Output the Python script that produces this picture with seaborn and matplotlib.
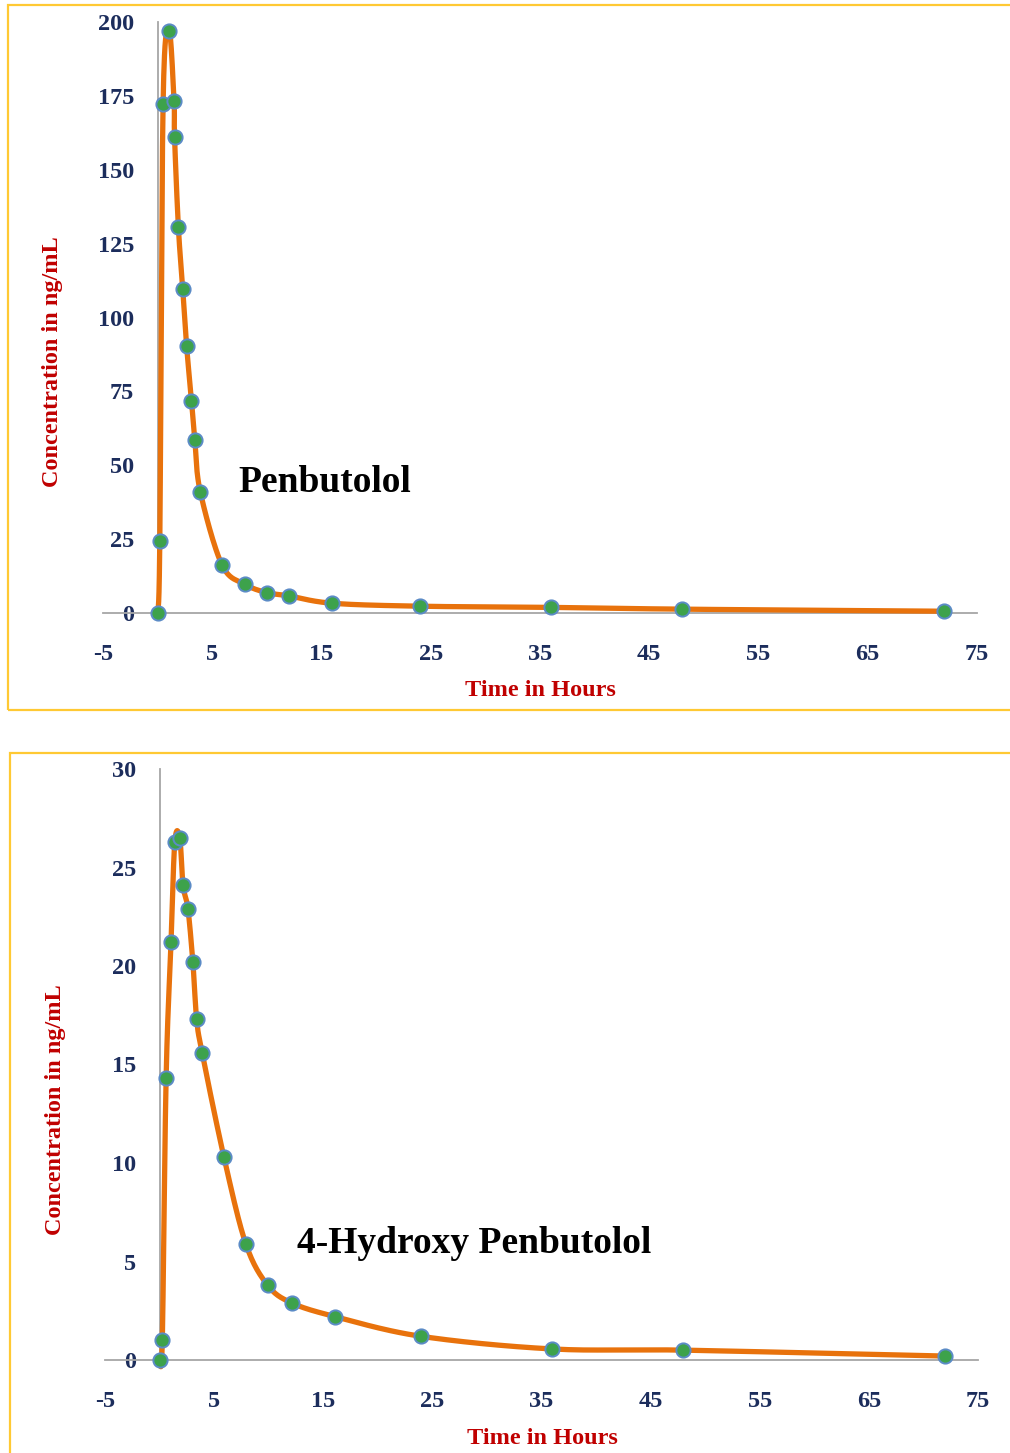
import numpy as np
import pandas as pd
import matplotlib
matplotlib.use("Agg")
import matplotlib.pyplot as plt
import seaborn as sns
from matplotlib.patches import Rectangle

sns.set_theme(style="white")
plt.rcParams["font.family"] = ["Liberation Serif", "DejaVu Serif"]
plt.rcParams["font.weight"] = "bold"
plt.rcParams["axes.unicode_minus"] = False

LINE     = "#E8720C"
DOT      = "#3DA24B"
DOT_EDGE = "#5B8BC6"
TICK     = "#1C2D5C"
LABEL    = "#C00000"
FRAME    = "#FFC933"
AXIS     = "#A6A6A6"

# Penbutolol (ng/mL)
pen_time = [0, 0.2, 0.5, 1.05, 1.5, 1.55, 1.9, 2.3, 2.65, 3.1, 3.4, 3.9,
            5.9, 8, 10, 12, 16, 24, 36, 48, 72]
pen_conc = [0, 24.4, 172.2, 197.1, 173.4, 161.0, 130.5, 109.5, 90.4, 71.9, 58.7, 41.1,
            16.2, 9.7, 6.9, 5.8, 3.3, 2.3, 1.9, 1.3, 0.6]

# 4-Hydroxy Penbutolol (ng/mL)
hyd_time = [0, 0.25, 0.6, 1.05, 1.4, 1.85, 2.15, 2.6, 3.05, 3.4, 3.9,
            5.9, 7.9, 9.9, 12.1, 16.1, 24, 36, 48, 72]
hyd_conc = [0, 1.0, 14.3, 21.2, 26.3, 26.5, 24.1, 22.9, 20.2, 17.3, 15.6,
            10.3, 5.9, 3.8, 2.9, 2.2, 1.2, 0.56, 0.5, 0.2]

x_ticks = list(range(-5, 76, 10))

W, H = 1010, 1453
fig = plt.figure(figsize=(W / 100, H / 100), dpi=100)
fig.patch.set_facecolor("white")


def smooth(x, y, sx, sy, n=24):
    # Excel-style smoothed line: cubic Bezier through the points, in screen units
    P = np.column_stack([np.asarray(x, float) * sx, np.asarray(y, float) * sy])
    P = np.vstack([P[0], P, P[-1]])
    out = [P[1]]
    t = np.linspace(0, 1, n)[1:, None]
    for i in range(1, len(P) - 2):
        p0, p1, p2, p3 = P[i - 1], P[i], P[i + 1], P[i + 2]
        c1 = p1 + (p2 - p0) / 6
        c2 = p2 - (p3 - p1) / 6
        seg = (1 - t) ** 3 * p1 + 3 * (1 - t) ** 2 * t * c1 + 3 * (1 - t) * t ** 2 * c2 + t ** 3 * p2
        out.extend(seg)
    out = np.array(out)
    return out[:, 0] / sx, out[:, 1] / sy


def panel(px_left, px_right, px_top, px_zero, time, conc, ymax, ystep,
          name, name_xy, xlab_xy, ylab_xy):
    ax = fig.add_axes([px_left / W, 1 - px_zero / H,
                       (px_right - px_left) / W, (px_zero - px_top) / H])
    ax.set_facecolor("none")
    sx = (px_right - px_left) / 80
    sy = (px_zero - px_top) / ymax

    cx, cy = smooth(time, conc, sx, sy)
    curve = pd.DataFrame({"t": cx, "c": cy})
    sns.lineplot(data=curve, x="t", y="c", sort=False, estimator=None,
                 color=LINE, linewidth=3.8, ax=ax, clip_on=False, zorder=3)
    pts = pd.DataFrame({"t": time, "c": conc})
    sns.scatterplot(data=pts, x="t", y="c", s=105, color=DOT, edgecolor=DOT_EDGE,
                    linewidth=1.4, ax=ax, clip_on=False, zorder=4)

    ax.set_xlim(-5, 75)
    ax.set_ylim(0, ymax)
    ax.set_xticks(x_ticks)
    ax.set_yticks(np.arange(0, ymax + 1, ystep))
    ax.set_xlabel("")
    ax.set_ylabel("")
    for s in ("top", "right"):
        ax.spines[s].set_visible(False)
    ax.spines["left"].set_position(("data", 0))
    for s in ("left", "bottom"):
        ax.spines[s].set_color(AXIS)
        ax.spines[s].set_linewidth(1.3)
        ax.spines[s].set_zorder(2)
    ax.tick_params(length=0, labelsize=17.5, labelcolor=TICK)
    ax.tick_params(axis="x", pad=22)
    ax.tick_params(axis="y", pad=17)

    ax.text(name_xy[0], name_xy[1], name, fontsize=27, color="black",
            ha="left", va="center")
    fig.text(xlab_xy[0] / W, 1 - xlab_xy[1] / H, "Time in Hours",
             fontsize=17.5, color=LABEL, ha="center", va="center")
    fig.text(ylab_xy[0] / W, 1 - ylab_xy[1] / H, "Concentration in ng/mL",
             fontsize=17.5, color=LABEL, ha="center", va="center", rotation=90)
    return ax


panel(103, 977, 22, 613, pen_time, pen_conc, 200, 25,
      "Penbutolol", (7.4, 44.3), (540, 691), (53, 362))
panel(105, 978, 769, 1360, hyd_time, hyd_conc, 30, 5,
      "4-Hydroxy Penbutolol", (12.6, 5.9), (542, 1438), (55, 1110))

fig.patches.append(Rectangle((8 / W, 1 - 710 / H), 1010 / W, 705 / H,
                             transform=fig.transFigure, fill=False,
                             edgecolor=FRAME, linewidth=1.6))
fig.patches.append(Rectangle((10 / W, 1 - 1460 / H), 1010 / W, 707 / H,
                             transform=fig.transFigure, fill=False,
                             edgecolor=FRAME, linewidth=1.6))

fig.savefig("out.png", dpi=100)
